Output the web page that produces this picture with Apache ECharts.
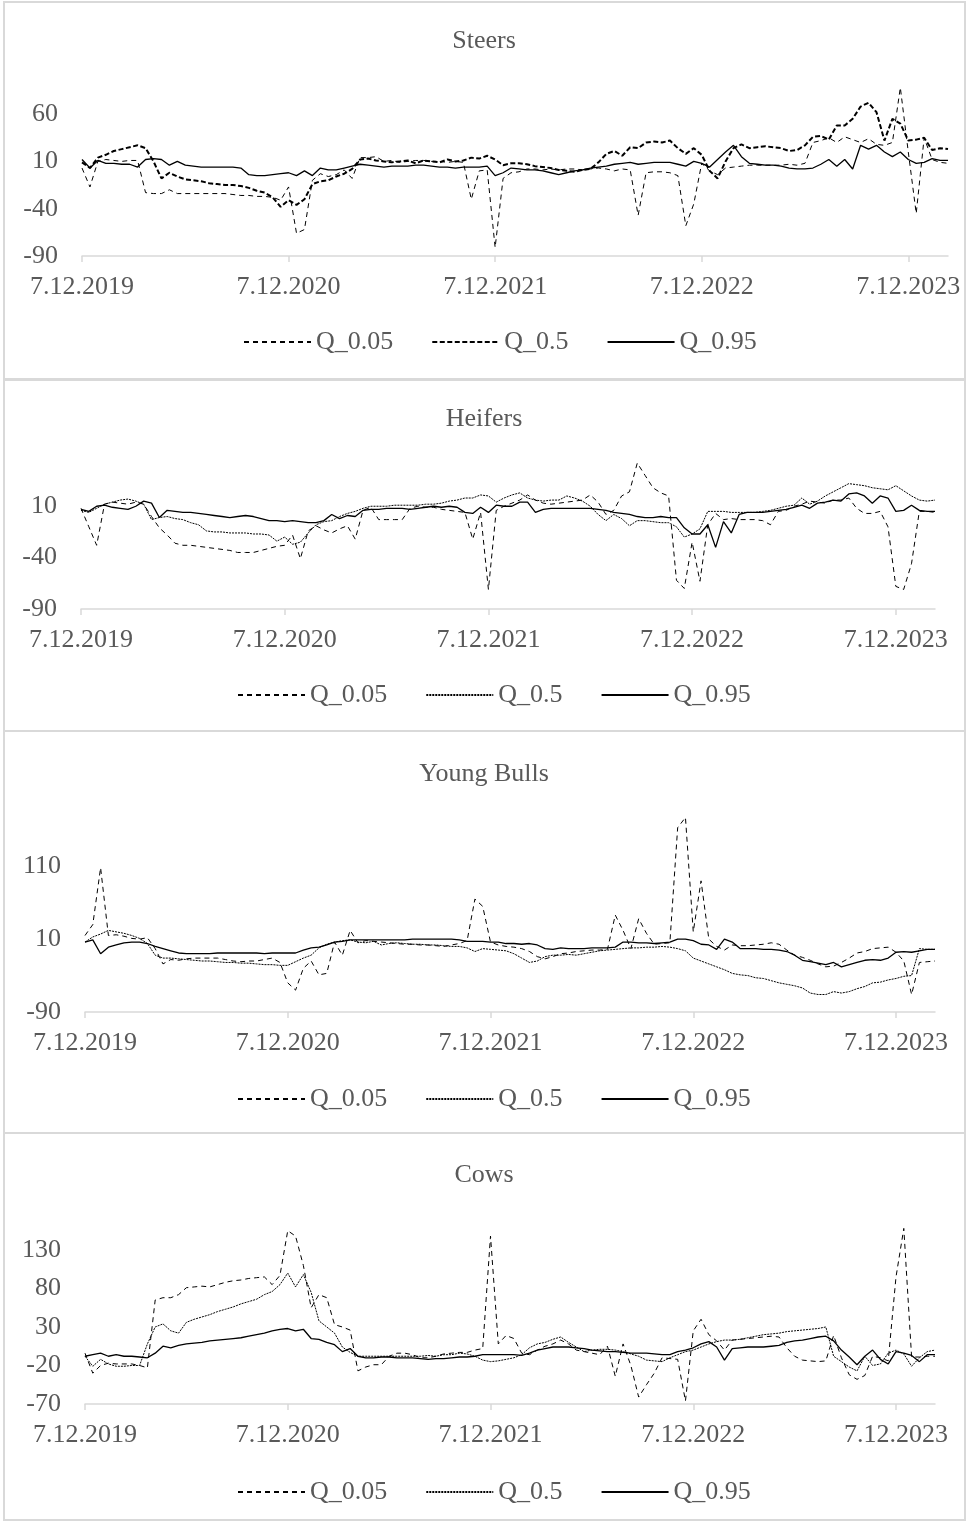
<!DOCTYPE html>
<html><head><meta charset="utf-8">
<script src="https://cdn.jsdelivr.net/npm/echarts@6/dist/echarts.min.js"></script>
<style>html,body{margin:0;padding:0;background:#fff;width:968px;height:1522px;overflow:hidden}
.p{position:absolute;left:0;width:968px}</style></head>
<body>
<div id="c0" class="p" style="top:0;height:380px"></div>
<div id="c1" class="p" style="top:380px;height:351px"></div>
<div id="c2" class="p" style="top:731px;height:402px"></div>
<div id="c3" class="p" style="top:1133px;height:389px"></div>
<script>
// ---- categories (bi-weekly observations starting 7.12.2019) ----
const startDate = Date.UTC(2019, 11, 7);
const nPoints = 110;
const dates = [];
for (let i = 0; i < nPoints; i++) {
  const d = new Date(startDate + i * 14 * 864e5);
  dates.push(d.getUTCDate() + '.' + (d.getUTCMonth() + 1) + '.' + d.getUTCFullYear());
}
const xTickLabels = ['7.12.2019', '7.12.2020', '7.12.2021', '7.12.2022', '7.12.2023'];
const seriesNames = ['Q_0.05', 'Q_0.5', 'Q_0.95'];
const titles = ['Steers', 'Heifers', 'Young Bulls', 'Cows'];

// ---- Steers ----
const steersQ05 = [3,-17,10,12,11,10,11,11,-23,-24,-24,-20,-24,-24,-24,-24,-24,-24,-24,-25,-26,-26,-27,-27,-28,-31,-17,-66,-62,-10,-3,-6,-4,1,-8,14,14,15,10,11,9,10,11,11,10,10,9,10,9,-30,0,1,-81,-8,-2,-1,2,2,1,2,1,2,2,1,2,3,2,0,2,1,-47,-2,-1,-1,-2,-5,-58,-35,8,0,-4,3,4,5,6,6,6,6,6,7,6,8,30,32,35,30,36,33,30,34,28,27,30,88,20,-45,35,12,9,8];
const steersQ5 = [9,3,14,17,21,23,25,27,24,10,-8,-2,-6,-9,-10,-11,-13,-14,-15,-15,-16,-18,-21,-23,-28,-38,-31,-36,-30,-14,-11,-10,-6,-3,2,12,13,11,10,9,10,11,8,11,10,9,12,10,11,14,13,16,12,6,8,8,7,5,4,3,1,0,-1,1,2,9,18,21,16,25,24,30,31,30,32,24,18,24,17,0,-8,10,24,28,24,25,26,25,24,21,22,27,36,37,33,48,48,55,68,72,62,32,55,50,32,33,35,22,24,23];
const steersQ95 = [12,3,11,8,8,7,7,4,12,13,12,6,10,6,5,4,4,4,4,4,3,-4,-5,-5,-4,-3,-2,-5,0,-5,3,1,1,3,5,7,6,5,4,5,5,5,6,6,5,4,4,3,4,4,4,5,-5,-2,3,2,1,1,0,-2,-4,-2,0,1,3,4,5,7,8,9,7,8,9,9,9,7,5,10,8,4,12,20,27,15,8,7,6,6,5,3,2,2,3,7,12,5,12,2,27,23,27,20,15,20,12,8,9,13,11,11];

// ---- Heifers ----
const heifersQ05 = [8,-10,-28,12,14,13,12,14,12,0,-11,-18,-26,-28,-28,-29,-30,-31,-32,-33,-35,-35,-35,-33,-31,-29,-28,-18,-41,-14,-9,-13,-16,-12,-9,-22,6,9,-3,-3,-3,-3,8,10,9,9,7,6,5,4,-22,4,-71,6,10,13,16,21,16,13,12,13,14,15,16,21,14,2,6,20,24,52,40,28,23,20,-62,-70,-25,-63,-8,3,-3,-2,-3,-3,-3,-4,-8,5,6,10,12,15,14,13,16,16,18,8,3,3,5,-10,-68,-71,-46,5,5,4];
const heifersQ5 = [6,4,8,12,14,16,17,15,12,-3,-1,0,-2,-3,-6,-8,-14,-15,-15,-16,-16,-16,-17,-17,-18,-24,-20,-27,-25,-16,-8,-5,-4,0,3,5,8,10,10,10,11,11,11,11,12,12,13,15,16,18,18,21,20,14,18,21,23,18,16,15,16,16,20,18,15,10,2,-4,2,-2,-9,-4,-4,-5,-6,-6,-10,-20,-17,-12,5,5,5,4,4,4,4,5,6,8,10,11,18,12,15,20,24,28,32,31,30,28,27,26,30,25,20,16,15,16];
const heifersQ95 = [7,5,10,11,9,8,7,10,15,13,-1,6,5,4,4,3,2,1,0,-1,0,1,0,-2,-4,-4,-5,-4,-5,-6,-6,-4,2,-2,1,0,6,7,7,8,8,8,7,8,9,10,9,10,9,4,3,9,4,11,10,10,14,14,4,7,8,8,8,8,8,8,7,6,4,3,2,0,-1,-1,0,-1,-1,-11,-17,-17,-8,-30,-5,-16,2,4,4,4,5,6,7,9,11,8,13,14,16,15,22,23,20,13,20,18,5,6,11,6,5,5];

// ---- Young Bulls ----
const bullsQ05 = [15,30,108,15,16,14,11,10,12,-3,-24,-18,-19,-17,-16,-16,-16,-16,-18,-20,-21,-20,-20,-18,-16,-22,-50,-60,-30,-20,-39,-37,6,-12,22,5,8,7,6,5,4,3,3,2,2,1,0,2,4,8,65,55,6,2,0,-1,-3,-7,-14,-17,-14,-10,-9,-7,-6,-5,-5,-4,43,22,-3,38,18,3,4,5,163,177,20,90,10,0,-5,2,1,1,2,3,5,3,-5,-12,-15,-19,-24,-28,-27,-22,-16,-9,-7,-3,-2,-1,-8,-20,-66,-22,-21,-20];
const bullsQ5 = [6,13,17,22,20,18,15,11,4,-12,-16,-16,-17,-18,-19,-20,-20,-21,-22,-22,-23,-23,-24,-25,-25,-26,-26,-21,-16,-12,-2,3,6,8,9,6,5,7,2,4,5,4,3,3,2,2,1,0,0,-2,-7,-3,-4,-5,-6,-10,-16,-22,-20,-14,-12,-12,-11,-12,-10,-8,-6,-5,-4,-3,-2,-2,-1,-1,0,-1,-3,-6,-16,-20,-24,-28,-32,-37,-39,-40,-43,-44,-47,-50,-52,-54,-57,-64,-66,-66,-62,-64,-62,-58,-55,-50,-49,-46,-44,-41,-40,-3,-4,-4];
const bullsQ95 = [6,9,-10,-1,2,5,6,6,4,0,-3,-6,-9,-10,-10,-10,-10,-9,-9,-9,-9,-9,-9,-10,-9,-9,-9,-9,-5,-2,-1,2,6,7,9,9,9,9,9,9,9,9,10,10,10,10,10,10,9,7,7,7,6,6,4,4,3,4,2,-3,-4,-2,-3,-3,-3,-2,-2,-2,-1,6,6,5,5,4,5,6,10,10,8,3,2,-4,10,6,-3,-3,-3,-4,-4,-5,-7,-12,-19,-21,-23,-25,-22,-28,-25,-22,-19,-18,-19,-16,-8,-7,-8,-6,-4,-4];

// ---- Cows ----
const cowsQ05 = [-4,-30,-20,-17,-18,-18,-18,-20,-23,65,68,68,72,81,82,83,82,85,88,90,91,93,94,95,85,97,155,148,110,55,72,68,33,30,26,-27,-22,-19,-19,-8,-4,-4,-6,-10,-10,-8,-5,-4,-3,-3,0,2,148,8,19,15,-4,-6,0,5,8,13,8,0,-2,-4,-6,5,-34,8,-20,-61,-45,-30,-10,-11,-12,-66,25,40,20,12,0,13,14,15,16,17,18,17,3,-8,-13,-14,-15,-14,19,-10,-32,-38,-33,-8,-10,-14,95,158,-9,-9,-8,-8];
const cowsQ5 = [-8,-21,-12,-18,-21,-21,-20,-20,8,30,34,25,22,36,40,43,46,50,53,56,60,63,66,72,76,85,100,82,98,75,38,30,22,4,-3,-8,-8,-8,-8,-8,-8,-8,-8,-8,-7,-8,-6,-6,-4,-5,-8,-13,-15,-14,-12,-10,-6,3,8,10,14,17,10,4,-2,0,1,1,0,-2,-5,-8,-13,-14,-15,-10,-6,-2,0,4,8,11,13,13,14,16,18,20,21,22,24,25,26,27,28,30,-8,-15,-22,-27,-8,-20,-18,-4,0,-5,-21,-10,-2,0];
const cowsQ95 = [-8,-6,-4,-8,-6,-8,-8,-9,-10,-4,5,3,6,8,9,10,12,13,14,15,16,18,20,22,25,27,28,25,27,15,14,10,7,-2,2,-8,-10,-10,-9,-9,-10,-10,-10,-11,-12,-11,-11,-10,-9,-9,-8,-6,-6,-6,-6,-6,-7,-4,0,2,4,4,4,3,2,0,-1,-2,-2,-3,-4,-4,-4,-5,-6,-6,-2,0,3,8,11,4,-13,2,3,4,4,4,5,6,10,12,13,15,17,18,12,0,-9,-19,-8,0,-12,-18,-2,-4,-7,-15,-6,-6];

const panelData = [
  [steersQ05, steersQ5, steersQ95],
  [heifersQ05, heifersQ5, heifersQ95],
  [bullsQ05, bullsQ5, bullsQ95],
  [cowsQ05, cowsQ5, cowsQ95]
];
const yMin = [-90, -90, -90, -70];
const yMax = [95, 55, 190, 165];
const yStep = [50, 50, 100, 50];

// ---- layout / style (not data) ----
const layout = [
  {border: [4, 2, 961, 377], grid: {left: 82, right: 20, top: 81, bottom: 124}, titleTop: 23, legendTop: 324, legendLeft: 238},
  {border: [4, 0, 961, 351], grid: {left: 81, right: 33, top: 80, bottom: 122}, titleTop: 21, legendTop: 297, legendLeft: 232},
  {border: [4, 0, 961, 402], grid: {left: 85, right: 33, top: 77, bottom: 121}, titleTop: 25, legendTop: 350, legendLeft: 232},
  {border: [4, 0, 961, 387], grid: {left: 85, right: 33, top: 90, bottom: 118}, titleTop: 24, legendTop: 341, legendLeft: 232}
];
const FONT = "'Liberation Serif', 'Times New Roman', serif";
const TXT = '#595959';
const GRAYLINE = '#d9d9d9';
const lineStyles = [
  [{type: [5, 4], width: 1}, {type: [5, 2.5], width: 2}, {type: 'solid', width: 1.3}],
  [{type: [5, 4], width: 1}, {type: [2, 1], width: 1}, {type: 'solid', width: 1.3}]
];
const tickEvery = 26;

for (let p = 0; p < 4; p++) {
  const L = layout[p];
  const chart = echarts.init(document.getElementById('c' + p), null, {renderer: 'canvas'});
  const styles = p === 0 ? lineStyles[0] : lineStyles[1];
  chart.setOption({
    animation: false,
    backgroundColor: 'transparent',
    graphic: [{
      type: 'rect', silent: true, z: -1,
      shape: {x: L.border[0], y: L.border[1], width: L.border[2], height: L.border[3]},
      style: {fill: null, stroke: GRAYLINE, lineWidth: 2}
    }],
    title: {
      text: titles[p], left: 'center', top: L.titleTop,
      textStyle: {fontFamily: FONT, fontSize: 26, fontWeight: 'normal', color: TXT}
    },
    legend: {
      data: seriesNames, left: L.legendLeft, top: L.legendTop,
      itemWidth: 67, itemHeight: 10, itemGap: 38,
      itemStyle: {color: 'rgba(0,0,0,0)', borderWidth: 0, opacity: 0},
      textStyle: {fontFamily: FONT, fontSize: 26, color: TXT},
      selectedMode: false
    },
    grid: Object.assign({containLabel: false}, L.grid),
    xAxis: {
      type: 'category', data: dates, boundaryGap: false,
      axisLine: {onZero: false, lineStyle: {color: GRAYLINE, width: 1.5}},
      axisTick: {show: true, length: 6, lineStyle: {color: GRAYLINE, width: 1.5},
        interval: (idx) => idx % tickEvery === 0},
      axisLabel: {
        interval: (idx) => idx % tickEvery === 0,
        formatter: (val, idx) => xTickLabels[Math.round(idx / tickEvery)] || '',
        fontFamily: FONT, fontSize: 26, color: TXT, margin: 18
      },
      splitLine: {show: false}
    },
    yAxis: {
      type: 'value', min: yMin[p], max: yMax[p], interval: yStep[p],
      axisLine: {show: false}, axisTick: {show: false}, splitLine: {show: false},
      axisLabel: {fontFamily: FONT, fontSize: 26, color: TXT, margin: 24, showMaxLabel: false}
    },
    series: seriesNames.map((nm, k) => ({
      name: nm, type: 'line', data: panelData[p][k], symbol: 'none', showSymbol: false, smooth: false,
      lineStyle: {color: '#000', width: styles[k].width, type: styles[k].type},
      itemStyle: {color: '#000'},
      emphasis: {disabled: true}, z: 3 - k
    }))
  });
}
</script>
</body></html>
